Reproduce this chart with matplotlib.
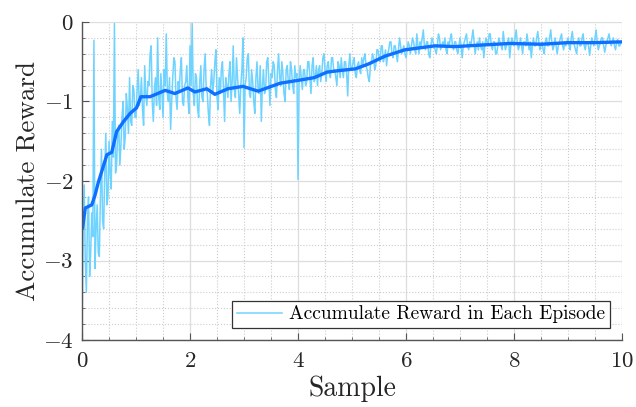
import matplotlib
matplotlib.use('Agg')
import matplotlib.pyplot as plt
import numpy as np
from matplotlib.ticker import MultipleLocator

plt.rcParams['font.family'] = 'serif'
plt.rcParams['font.serif'] = ['cmr10']
plt.rcParams['mathtext.fontset'] = 'cm'
plt.rcParams['axes.formatter.use_mathtext'] = True

# reward per episode (light line), step 0.02
reward = [
    # 0 - 1
    -3.85, -2.6, -2.05, -3.0, -3.4, -2.5, -2.2, -3.2, -2.9, -2.4,
    -2.7, -0.23, -3.1, -2.6, -2.3, -2.9, -2.95, -2.2, -1.6, -2.5,
    -2.6, -1.9, -1.4, -2.3, -2.2, -1.5, -1.9, -2.1, -1.25, -1.7,
    -0.02, -1.9, -1.8, -1.4, -1.3, -1.8, -1.55, -1.2, -1.0, -1.6,
    -1.45, -0.9, -1.1, -1.4, -0.7, -1.25, -1.3, -0.8, -0.85, -1.2,
    # 1 - 2
    -1.2, -0.85, -0.6, -1.05, -0.95, -0.7, -1.1, -1.3, -0.55, -0.9,
    -1.05, -0.75, -0.8, -0.4, -0.3, -1.0, -1.25, -0.85, -0.7, -1.05,
    -0.2, -0.95, -1.1, -0.65, -0.9, -1.2, -0.6, -0.8, -0.15, -0.9,
    -1.0, -0.7, -1.35, -1.0, -0.7, -0.45, -0.5, -0.95, -1.1, -0.75,
    -0.85, -0.6, -0.45, -1.0, -1.05, -0.8, -0.75, -0.55, -0.95, -1.15,
    # 2 - 3
    -0.3, -0.8, -0.02, -0.9, -1.05, -0.65, -0.7, -1.1, -1.2, -0.75,
    -0.55, -0.95, -1.0, -0.6, -0.4, -0.85, -0.9, -1.15, -1.3, -0.8,
    -0.6, -0.9, -0.75, -0.5, -0.35, -0.95, -1.1, -0.7, -0.9, -0.6,
    -0.5, -0.85, -1.25, -0.7, -0.8, -0.95, -0.65, -0.5, -1.0, -0.75,
    -0.3, -0.85, -0.95, -0.45, -0.7, -0.9, -1.15, -0.8, -0.6, -0.2,
    # 3 - 4
    -1.58, -0.8, -0.7, -0.45, -0.4, -0.9, -0.95, -0.6, -0.75, -1.0,
    -1.15, -0.7, -0.5, -0.85, -0.9, -0.55, -1.25, -0.8, -0.6, -0.9,
    -0.85, -0.5, -0.45, -0.75, -1.05, -0.65, -0.7, -0.5, -0.55, -0.85,
    -0.95, -0.6, -0.4, -0.7, -0.8, -0.5, -0.65, -0.9, -1.0, -0.6,
    -0.55, -0.75, -0.85, -0.5, -0.6, -0.8, -0.9, -0.55, -0.7, -0.65,
    # 4 - 5
    -1.98, -0.75, -0.55, -0.7, -0.85, -0.6, -0.6, -0.8, -0.75, -0.5,
    -0.5, -0.7, -0.9, -0.55, -0.45, -0.75, -0.7, -0.55, -0.8, -0.6,
    -0.55, -0.75, -0.65, -0.45, -0.4, -0.6, -0.75, -0.55, -0.5, -0.65,
    -0.7, -0.45, -0.45, -0.6, -0.6, -0.7, -0.8, -0.5, -0.55, -0.7,
    -0.45, -0.6, -0.7, -0.5, -0.5, -0.65, -0.93, -0.55, -0.4, -0.6,
    # 5 - 6
    -0.6, -0.5, -0.45, -0.65, -0.7, -0.55, -0.5, -0.6, -0.65, -0.45,
    -0.55, -0.45, -0.4, -0.55, -0.6, -0.7, -0.75, -0.55, -0.5, -0.4,
    -0.45, -0.6, -0.55, -0.35, -0.35, -0.45, -0.5, -0.3, -0.3, -0.5,
    -0.45, -0.35, -0.55, -0.4, -0.35, -0.25, -0.25, -0.4, -0.45, -0.3,
    -0.3, -0.4, -0.5, -0.35, -0.2, -0.3, -0.4, -0.35, -0.3, -0.4,
    # 6 - 7
    -0.45, -0.35, -0.25, -0.3, -0.4, -0.3, -0.2, -0.25, -0.35, -0.4,
    -0.15, -0.3, -0.4, -0.25, -0.3, -0.2, -0.1, -0.3, -0.35, -0.25,
    -0.25, -0.4, -0.45, -0.3, -0.2, -0.25, -0.3, -0.35, -0.4, -0.3,
    -0.15, -0.2, -0.35, -0.3, -0.25, -0.3, -0.2, -0.35, -0.4, -0.25,
    -0.3, -0.2, -0.15, -0.3, -0.35, -0.25, -0.25, -0.35, -0.4, -0.3,
    # 7 - 8
    -0.2, -0.3, -0.45, -0.3, -0.25, -0.2, -0.15, -0.3, -0.35, -0.25,
    -0.3, -0.2, -0.1, -0.25, -0.4, -0.3, -0.25, -0.35, -0.2, -0.3,
    -0.35, -0.25, -0.45, -0.3, -0.2, -0.25, -0.3, -0.15, -0.15, -0.3,
    -0.35, -0.25, -0.25, -0.4, -0.4, -0.3, -0.2, -0.25, -0.3, -0.35,
    -0.12, -0.25, -0.35, -0.3, -0.25, -0.2, -0.45, -0.3, -0.2, -0.25,
    # 8 - 9
    -0.3, -0.2, -0.1, -0.25, -0.35, -0.3, -0.2, -0.3, -0.4, -0.25,
    -0.25, -0.3, -0.15, -0.25, -0.35, -0.25, -0.45, -0.3, -0.2, -0.3,
    -0.3, -0.2, -0.12, -0.25, -0.35, -0.3, -0.25, -0.35, -0.4, -0.25,
    -0.2, -0.3, -0.3, -0.2, -0.1, -0.25, -0.35, -0.3, -0.2, -0.3,
    -0.4, -0.3, -0.25, -0.2, -0.15, -0.3, -0.35, -0.25, -0.3, -0.25,
    # 9 - 10
    -0.2, -0.3, -0.35, -0.2, -0.12, -0.25, -0.3, -0.35, -0.4, -0.25,
    -0.2, -0.3, -0.3, -0.2, -0.15, -0.3, -0.35, -0.25, -0.25, -0.3,
    -0.42, -0.3, -0.2, -0.25, -0.3, -0.2, -0.1, -0.25, -0.35, -0.3,
    -0.25, -0.2, -0.2, -0.3, -0.38, -0.3, -0.25, -0.2, -0.15, -0.25,
    -0.3, -0.25, -0.2, -0.3, -0.35, -0.25, -0.22, -0.3, -0.3, -0.25,
    -0.25,
]
sample = np.linspace(0, 10, len(reward))

# smoothed reward (thick line)
smooth_x = [0, 0.01, 0.06, 0.18, 0.24, 0.30, 0.36, 0.46, 0.55, 0.64, 0.76, 0.89, 1.01, 1.09, 1.26, 1.54, 1.72,
            1.96, 2.09, 2.31, 2.46, 2.70, 2.98, 3.26, 3.67, 4.04, 4.3, 4.54, 4.78, 5.06, 5.3, 5.61, 5.98,
            6.54, 6.9, 7.4, 7.93, 8.5, 9.0, 9.5, 10.0]
smooth_y = [-2.6, -2.59, -2.34, -2.30, -2.18, -2.02, -1.89, -1.67, -1.64, -1.38, -1.26, -1.15, -1.08, -0.94, -0.94, -0.86, -0.90,
            -0.83, -0.88, -0.84, -0.91, -0.84, -0.81, -0.87, -0.77, -0.73, -0.70, -0.63, -0.61, -0.59, -0.53, -0.43, -0.35,
            -0.30, -0.31, -0.29, -0.27, -0.28, -0.26, -0.26, -0.25]

fig = plt.figure(figsize=(6.36, 4.07), dpi=100)
ax = fig.add_axes([0.129, 0.1646, 0.849, 0.7814])

ax.plot(sample, reward, color='#6fd3ff', linewidth=1.1, label='Accumulate Reward in Each Episode')
ax.plot(smooth_x, smooth_y, color='#0f6fff', linewidth=2.4)

ax.set_xlim(0, 10)
ax.set_ylim(-4, 0)
ax.xaxis.set_major_locator(MultipleLocator(2))
ax.xaxis.set_minor_locator(MultipleLocator(0.5))
ax.yaxis.set_major_locator(MultipleLocator(1))
ax.yaxis.set_minor_locator(MultipleLocator(0.2))

ax.grid(True, which='major', color='#dddddd', linewidth=0.9)
ax.grid(True, which='minor', color='#cccccc', linestyle=':', linewidth=0.8)
ax.set_axisbelow(True)

for s in ['top', 'right']:
    ax.spines[s].set_visible(False)
for s in ['left', 'bottom']:
    ax.spines[s].set_color('#555555')
    ax.spines[s].set_linewidth(1.0)
ax.tick_params(which='both', direction='in', colors='#555555', labelcolor='#262626', labelsize=16.5)
ax.tick_params(which='major', length=5)
ax.tick_params(which='minor', length=2.5)
ax.tick_params(axis='x', which='major', pad=8.5)
ax.tick_params(axis='y', which='major', pad=6)

ax.set_xlabel('Sample', fontsize=20, color='#262626', labelpad=3)
ax.set_ylabel('Accumulate Reward', fontsize=19.5, color='#262626', labelpad=2)

leg = ax.legend(loc='lower right', fontsize=14, fancybox=False, framealpha=1,
                edgecolor='#333333', handlelength=2.3, handletextpad=0.4, borderpad=0.25,
                borderaxespad=0.6)
leg.get_frame().set_linewidth(0.9)

fig.savefig('out.png', dpi=100)
